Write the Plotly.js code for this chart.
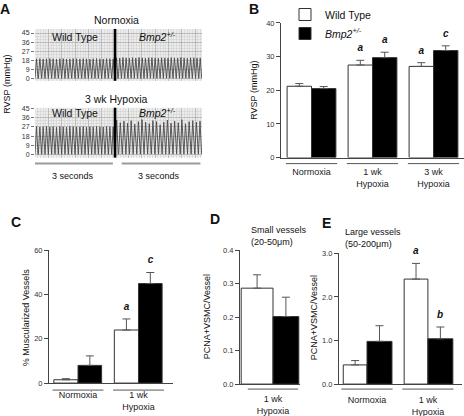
<!DOCTYPE html>
<html>
<head>
<meta charset="utf-8">
<script src="https://cdn.plot.ly/plotly-3.0.1.min.js"></script>
<style>html,body{margin:0;padding:0;background:#fff;}#chart{width:464px;height:416px;}</style>
</head>
<body>
<div id="chart"></div>
<script>
// ---------- Panel A: RVSP tracings (peak systolic pressure per beat, mmHg) ----------
const recordSeconds = 3;
const wtNormPeaks  = [19.6,19.8,19.5,19.7,19.9,19.6,19.4,19.7,19.8,19.5,19.6,19.9,19.7,19.5,19.8,19.6,19.4,19.7,19.9,19.6,19.5,19.8,19.7,19.6];
const bmpNormPeaks = [20.6,20.3,20.8,20.5,20.2,20.7,20.4,20.9,20.5,20.3,20.6,20.8,20.4,20.2,20.7,20.5,20.3,20.8,20.6,20.4,20.9,20.5,20.2,20.6,20.7,20.4,20.5];
const wtHypPeaks   = [27.2,26.8,27.0,27.3,26.9,27.1,26.7,27.2,27.0,26.8,27.3,27.1,26.9,27.0,27.2,26.8,27.1,26.9,27.3,27.0,26.8,27.2,27.0,26.9];
const bmpHypPeaks  = [33.5,31.0,32.5,30.5,33.0,29.5,32.0,34.0,31.5,30.0,33.0,32.0,29.0,31.5,33.5,30.5,32.5,31.0,34.0,30.0,32.0,33.0,31.5,32.5];
const diastolic = {wtNorm:0.5, bmpNorm:0.5, wtHyp:0.3, bmpHyp:0.5};
const aTickVals = [0,9,18,27,36,45];

// ---------- Panel B: RVSP (mmHg) ----------
const catsB = ["Normoxia","1 wk<br>Hypoxia","3 wk<br>Hypoxia"];
const wtB   = [21.2, 27.5, 27.1];
const wtBsem= [0.8, 1.4, 1.1];
const bmpB  = [20.5, 29.7, 31.8];
const bmpBsem=[0.6, 1.6, 1.4];
const sigWtB = ["", "a", "a"];
const sigBmpB= ["", "a", "c"];

// ---------- Panel C: % muscularized vessels ----------
const catsC = ["Normoxia","1 wk<br>Hypoxia"];
const wtC   = [1.5, 24];
const wtCsem= [0.5, 5];
const bmpC  = [8, 45];
const bmpCsem=[4.3, 5];
const sigWtC = ["", "a"];
const sigBmpC= ["", "c"];

// ---------- Panel D: small vessels PCNA+VSMC/vessel ----------
const catsD = ["1 wk<br>Hypoxia"];
const wtD   = [0.287];
const wtDsem= [0.04];
const bmpD  = [0.202];
const bmpDsem=[0.058];

// ---------- Panel E: large vessels PCNA+VSMC/vessel ----------
const catsE = ["Normoxia","1 wk<br>Hypoxia"];
const wtE   = [0.44, 2.41];
const wtEsem= [0.10, 0.36];
const bmpE  = [0.98, 1.04];
const bmpEsem=[0.36, 0.27];
const sigWtE = ["", "a"];
const sigBmpE= ["", "b"];

const W = 464, H = 416;
const px = x => x / W;
const py = y => 1 - y / H;
const FONT = 'Liberation Sans, Arial, sans-serif';
const AX = '#444';

function wave(peaks, trough, start, span) {
  const p = span / peaks.length;
  const xs = [], ys = [];
  peaks.forEach((pk, i) => {
    const t0 = start + i * p;
    xs.push(t0, t0 + 0.45 * p, t0 + 0.9 * p);
    ys.push(trough, pk, trough);
  });
  return {xs, ys};
}
const bmpSpan = 3.26;
function traceLine(w, xa, ya) {
  return {type:'scatter', mode:'lines', x:w.xs, y:w.ys, xaxis:xa, yaxis:ya,
    line:{color:'#4a4a4a', width:0.9}, showlegend:false, hoverinfo:'skip'};
}
const data = [];
data.push(traceLine(wave(wtNormPeaks, diastolic.wtNorm, 0, recordSeconds), 'x', 'y'));
data.push(traceLine(wave(bmpNormPeaks, diastolic.bmpNorm, recordSeconds, bmpSpan), 'x', 'y'));
data.push(traceLine(wave(wtHypPeaks, diastolic.wtHyp, 0, recordSeconds), 'x2', 'y2'));
data.push(traceLine(wave(bmpHypPeaks, diastolic.bmpHyp, recordSeconds, bmpSpan), 'x2', 'y2'));

function bars(xa, ya, cats, vals, sems, w, off, fill, name, show) {
  return {type:'bar', x:cats.map((c,i)=>i), y:vals, xaxis:xa, yaxis:ya,
    width:w, offset:off, name:name, showlegend:show, legendgroup:name,
    marker:{color:fill, line:{color:'#333', width:1}},
    error_y:{type:'data', array:sems, arrayminus:sems.map(()=>0), symmetric:false,
      color:'#555', thickness:1, width:4},
    hoverinfo:'skip'};
}
function sig(xa, ya, cats, vals, sems, letters, dx) {
  const idx = letters.map((l,i)=>i).filter(i => letters[i]);
  return {type:'scatter', mode:'markers+text', x:idx.map(i=>i+dx),
    y:idx.map(i=>vals[i]+sems[i]), xaxis:xa, yaxis:ya,
    text:idx.map(i => '<b><i>'+letters[i]+'</i></b>'), textposition:'top center',
    textfont:{size:10, color:'#111', family:FONT}, cliponaxis:false,
    marker:{size:9, opacity:0}, showlegend:false, hoverinfo:'skip'};
}
const WT = 'Wild Type', BMP = '<i>Bmp2<sup>+/-</sup></i>';
// B
data.push(bars('x3','y3',catsB,wtB,wtBsem,0.4,-0.4,'#ffffff',WT,true));
data.push(bars('x3','y3',catsB,bmpB,bmpBsem,0.4,0,'#000000',BMP,true));
data.push(sig('x3','y3',catsB,wtB,wtBsem,sigWtB,-0.2));
data.push(sig('x3','y3',catsB,bmpB,bmpBsem,sigBmpB,0.2));
// C
data.push(bars('x4','y4',catsC,wtC,wtCsem,0.4,-0.4,'#ffffff',WT,false));
data.push(bars('x4','y4',catsC,bmpC,bmpCsem,0.39,0,'#000000',BMP,false));
data.push(sig('x4','y4',catsC,wtC,wtCsem,sigWtC,-0.2));
data.push(sig('x4','y4',catsC,bmpC,bmpCsem,sigBmpC,0.2));
// D
data.push(bars('x5','y5',catsD,wtD,wtDsem,0.53,-0.53,'#ffffff',WT,false));
data.push(bars('x5','y5',catsD,bmpD,bmpDsem,0.43,0,'#000000',BMP,false));
// E
data.push(bars('x6','y6',catsE,wtE,wtEsem,0.39,-0.39,'#ffffff',WT,false));
data.push(bars('x6','y6',catsE,bmpE,bmpEsem,0.41,0,'#000000',BMP,false));
data.push(sig('x6','y6',catsE,wtE,wtEsem,sigWtE,-0.2));
data.push(sig('x6','y6',catsE,bmpE,bmpEsem,sigBmpE,0.2));

function traceX(domain, yref) {
  return {domain:domain, range:[0, recordSeconds + bmpSpan], anchor:yref, showticklabels:false, ticks:'',
    showgrid:true, gridcolor:'#a0a0a0', gridwidth:0.6, dtick:0.5, tick0:0,
    minor:{dtick:0.1, showgrid:true, gridcolor:'#cdcdcd', gridwidth:0.5},
    zeroline:false, showline:false, fixedrange:true};
}
function traceY(domain, range, xref) {
  return {domain:domain, range:range, anchor:xref, tickvals:aTickVals, ticks:'outside', ticklen:3,
    tickcolor:'#777', tickfont:{size:7, color:'#333'}, showgrid:true, gridcolor:'#a0a0a0', gridwidth:0.6,
    minor:{tickvals:[3,6,12,15,21,24,30,33,39,42], showgrid:true, gridcolor:'#cdcdcd', gridwidth:0.5},
    zeroline:false, showline:false, fixedrange:true};
}
function barX(domain, range, yref, cats, standoff) {
  return {domain:domain, range:range, anchor:yref, tickvals:cats.map((c,i)=>i), ticktext:cats,
    ticks:'', showline:true, linecolor:AX, linewidth:1, showgrid:false, zeroline:false,
    tickfont:{size:9, color:'#222'}, ticklabelstandoff:standoff, fixedrange:true};
}
function barY(domain, range, dtick, yfmt, xref) {
  return {domain:domain, range:range, anchor:xref, dtick:dtick, tick0:0, tickformat:yfmt,
    ticks:'outside', ticklen:4, tickcolor:AX, showline:true, linecolor:AX, linewidth:1,
    showgrid:false, zeroline:false, tickfont:{size:7.5, color:'#333'}, fixedrange:true};
}

const shapes = [];
// graph-paper background for the tracings
['', '2'].forEach(s => {
  shapes.push({type:'rect', xref:'x'+s+' domain', yref:'y'+s+' domain', x0:0, x1:1, y0:0, y1:1,
    fillcolor:'#ececec', line:{width:0}, layer:'below'});
  shapes.push({type:'line', xref:'x'+s, yref:'y'+s+' domain', x0:recordSeconds, x1:recordSeconds, y0:0, y1:1,
    line:{color:'#000', width:2.6}, layer:'above'});
});
// time scale bars
shapes.push({type:'line', xref:'x2', yref:'paper', x0:0, x1:2.92, y0:py(163), y1:py(163), line:{color:'#9a9a9a', width:2}});
shapes.push({type:'line', xref:'x2', yref:'paper', x0:3.25, x1:6.2, y0:py(163), y1:py(163), line:{color:'#9a9a9a', width:2}});
// category group lines under the bar axes
function groupLines(xa, cats, yPix) {
  cats.forEach((c,i) => shapes.push({type:'line', xref:xa, yref:'paper', x0:i-0.42, x1:i+0.42,
    y0:py(yPix), y1:py(yPix), line:{color:'#555', width:1}}));
}
groupLines('x3', catsB, 163);
groupLines('x4', catsC, 390);
groupLines('x5', catsD, 389);
groupLines('x6', catsE, 389);

function ann(text, x, y, size, opts) {
  return Object.assign({text:text, x:px(x), y:py(y), xref:'paper', yref:'paper', showarrow:false,
    font:{size:size, color:'#111', family:FONT}, xanchor:'center', yanchor:'middle'}, opts || {});
}
const annotations = [
  ann('<b>A</b>', 5, 8, 14),
  ann('<b>B</b>', 254, 8, 14),
  ann('<b>C</b>', 16, 222, 14),
  ann('<b>D</b>', 215, 219, 14),
  ann('<b>E</b>', 326, 223, 14),
  ann('Normoxia', 116, 19, 10.5),
  ann('3 wk Hypoxia', 116, 98, 10.5),
  ann('Wild Type', 75, 36, 10.5),
  ann('<i>Bmp2<sup>+/-</sup></i>', 157, 36, 10.5),
  ann('Wild Type', 75, 112, 10.5),
  ann('<i>Bmp2<sup>+/-</sup></i>', 157, 112, 10.5),
  ann('3 seconds', 73, 175, 9),
  ann('3 seconds', 159, 175, 9),
  ann('RVSP (mmHg)', 7, 84, 9, {textangle:-90}),
  ann('RVSP (mmHg)', 254, 90, 9, {textangle:-90}),
  ann('% Muscularized Vessels', 26, 317, 9, {textangle:-90}),
  ann('PCNA+VSMC/Vessel', 207, 317, 9, {textangle:-90}),
  ann('PCNA+VSMC/Vessel', 314, 318, 9, {textangle:-90}),
  ann('Small vessels<br>(20-50\u03bcm)', 249, 236, 9, {xanchor:'left', align:'left'}),
  ann('Large vessels<br>(50-200\u03bcm)', 343, 238, 9, {xanchor:'left', align:'left'})
];

const layout = {
  width:W, height:H, margin:{l:0, r:0, t:0, b:0},
  paper_bgcolor:'#fff', plot_bgcolor:'rgba(0,0,0,0)',
  font:{family:FONT, size:9, color:'#222'},
  barmode:'overlay', showlegend:true,
  legend:{x:px(285), y:py(-1), xanchor:'left', yanchor:'top', font:{size:10.5, color:'#111', family:FONT},
    bgcolor:'rgba(0,0,0,0)', tracegroupgap:0, itemwidth:30},
  xaxis: traceX([px(35), px(202)], 'y'),
  yaxis: traceY([py(80), py(28)], [-2, 49], 'x'),
  xaxis2: traceX([px(35), px(202)], 'y2'),
  yaxis2: traceY([py(157), py(107)], [-2.9, 45.5], 'x2'),
  xaxis3: barX([px(281), px(464)], [-0.5, 2.5], 'y3', catsB, 6),
  yaxis3: barY([py(157), py(22)], [0, 40], 10, 'd', 'x3'),
  xaxis4: barX([px(49), px(173)], [-0.48, 1.57], 'y4', catsC, 3),
  yaxis4: barY([py(383), py(250)], [0, 60], 20, 'd', 'x4'),
  xaxis5: barX([px(240), px(300)], [-0.55, 0.45], 'y5', catsD, 6),
  yaxis5: barY([py(384), py(250)], [0, 0.4], 0.1, '.1f', 'x5'),
  xaxis6: barX([px(339), px(462)], [-0.46, 1.56], 'y6', catsE, 7),
  yaxis6: barY([py(384), py(253)], [0, 3], 1, '.1f', 'x6'),
  shapes:shapes, annotations:annotations
};
Plotly.newPlot('chart', data, layout, {displayModeBar:false, staticPlot:true});
</script>
</body>
</html>
